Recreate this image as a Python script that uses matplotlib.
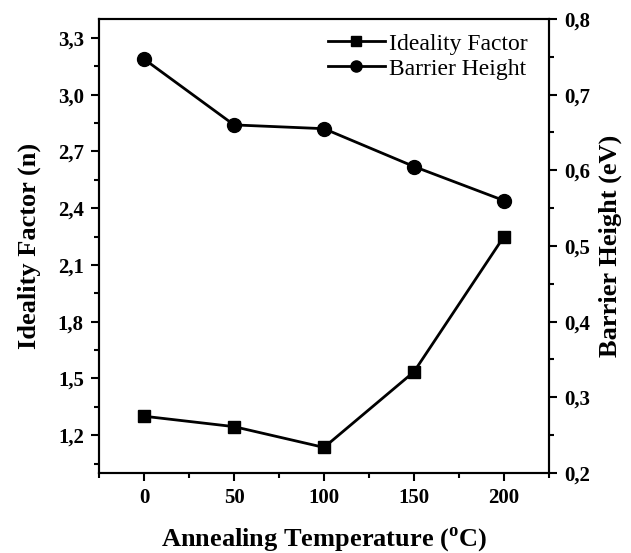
import matplotlib
matplotlib.use('Agg')
from matplotlib import pyplot as plt
from matplotlib.ticker import MultipleLocator, FuncFormatter

# данные
temperature = [0, 50, 100, 150, 200]
ideality = [1.30, 1.245, 1.135, 1.535, 2.25]
barrier = [0.747, 0.66, 0.655, 0.605, 0.56]

plt.rcParams['font.family'] = 'Liberation Serif'
plt.rcParams['mathtext.fontset'] = 'custom'
plt.rcParams['mathtext.rm'] = 'Liberation Serif'
plt.rcParams['mathtext.bf'] = 'Liberation Serif:bold'


def comma_fmt(v, pos):
    return ('%.1f' % v).replace('.', ',')


fig = plt.figure(figsize=(6.31, 5.53), dpi=100)
ax = fig.add_axes([0.157, 0.1447, 0.713, 0.821])
ax2 = ax.twinx()

l1, = ax.plot(temperature, ideality, 'k-', marker='s', markersize=9, linewidth=2, label='Ideality Factor')
l2, = ax2.plot(temperature, barrier, 'k-', marker='o', markersize=10, linewidth=2, label='Barrier Height')

ax.set_xlim(-25, 225)
ax.set_ylim(1.0, 3.4)
ax2.set_ylim(0.2, 0.8)

ax.xaxis.set_major_locator(MultipleLocator(50))
ax.xaxis.set_minor_locator(MultipleLocator(25))
ax.yaxis.set_major_locator(MultipleLocator(0.3))
ax.yaxis.set_minor_locator(MultipleLocator(0.15))
ax2.yaxis.set_major_locator(MultipleLocator(0.1))
ax2.yaxis.set_minor_locator(MultipleLocator(0.05))
ax.yaxis.set_major_formatter(FuncFormatter(comma_fmt))
ax2.yaxis.set_major_formatter(FuncFormatter(comma_fmt))

for a in (ax, ax2):
    a.tick_params(which='major', direction='out', length=6, width=1.5, labelsize=15, pad=5)
    a.tick_params(which='minor', direction='out', length=3.5, width=1.5)
    for s in a.spines.values():
        s.set_linewidth(1.5)
    for lab in a.get_xticklabels() + a.get_yticklabels():
        lab.set_fontweight('bold')

ax.set_xlabel('Annealing Temperature ($^{\\mathbf{o}}$C)', fontsize=19, fontweight='bold', labelpad=12)
ax.set_ylabel('Ideality Factor (n)', fontsize=19, fontweight='bold', labelpad=12)
ax2.set_ylabel('Barrier Height (eV)', fontsize=19, fontweight='bold', labelpad=6)

ax.legend([l1, l2], ['Ideality Factor', 'Barrier Height'], loc='upper right', frameon=False,
          fontsize=17, handlelength=2.4, handletextpad=0.2, labelspacing=0.15,
          markerscale=0.8, borderaxespad=0.2, bbox_to_anchor=(0.985, 1.0))

fig.savefig('out.png', dpi=100)
